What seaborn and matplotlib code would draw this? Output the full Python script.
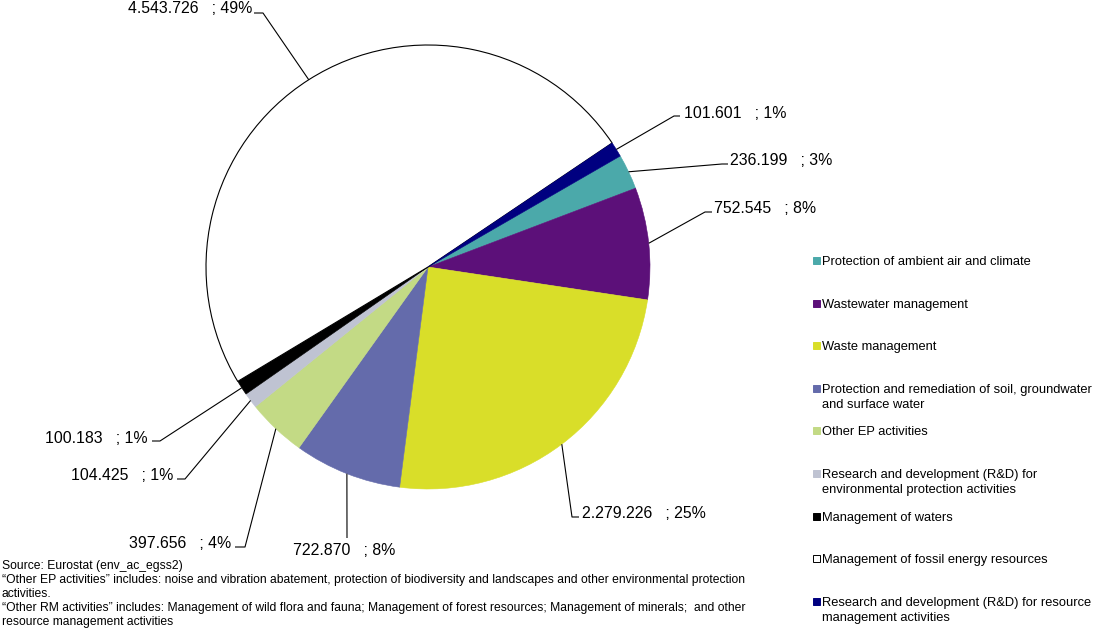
import matplotlib
matplotlib.use("Agg")
import matplotlib.pyplot as plt
from matplotlib.patches import Rectangle
import seaborn as sns
import numpy as np

# ---------------- data ----------------
categories = [
    "Protection of ambient air and climate",
    "Wastewater management",
    "Waste management",
    "Protection and remediation of soil, groundwater\nand surface water",
    "Other EP activities",
    "Research and development (R&D) for\nenvironmental protection activities",
    "Management of waters",
    "Management of fossil energy resources",
    "Research and development (R&D) for resource\nmanagement activities",
]
values = [236199, 752545, 2279226, 722870, 397656, 104425, 100183, 4543726, 101601]
colors = ["#4BA9AA", "#5C1079", "#D9DE29", "#646BAB", "#C3DA85",
          "#BFC3D2", "#000000", "#FFFFFF", "#000080"]

footnotes = [
    "Source: Eurostat (env_ac_egss2)",
    "\u201cOther EP activities\u201d includes: noise and vibration abatement, protection of biodiversity and landscapes and other environmental protection",
    "activities.",
    "\u201cOther RM activities\u201d includes: Management of wild flora and fauna; Management of forest resources; Management of minerals;  and other",
    "resource management activities",
]

# ---------------- layout (pixels, y measured from top) ----------------
W, H = 1101, 630
CX, CY, R = 428, 267, 222
label_x = [730, 714, 582, 344, 231, 173, 148, 252, 684]
label_base = [165, 213, 518, 555, 548, 480, 443, 13, 118]
label_ha = ["left", "left", "left", "center", "right", "right", "right", "right", "left"]
elbows = [(722, 164), (705, 212), (572, 517), (347, 538), (245, 547),
          (185, 479), (160, 441), (263, 13), (674, 116)]
tick_ends = [(728, 164), (712, 212), (579, 517), None, (235, 547),
             (177, 479), (152, 441), (254, 13), (680, 116)]

sns.set_theme(style="white")
plt.rcParams["font.family"] = ["Liberation Sans", "DejaVu Sans"]

fig = plt.figure(figsize=(W / 100, H / 100), dpi=100)
ax = fig.add_axes([0, 0, 1, 1])

palette = sns.color_palette(colors)
wedges, _ = ax.pie(values, colors=palette, startangle=30, counterclock=False,
                   center=(CX, H - CY), radius=R)
for w, c in zip(wedges, colors):
    if c.upper() == "#FFFFFF":
        w.set_edgecolor("black")
        w.set_linewidth(0.8)
    else:
        w.set_edgecolor(c)
        w.set_linewidth(0.4)
ax.set_xlim(0, W)
ax.set_ylim(0, H)
ax.set_aspect("equal")
ax.axis("off")

total = sum(values)
for i, w in enumerate(wedges):
    th = np.radians((w.theta1 + w.theta2) / 2)
    rx, ry = CX + R * np.cos(th), (H - CY) + R * np.sin(th)
    ex, ey = elbows[i]
    xs, ys = [rx, ex], [ry, H - ey]
    if tick_ends[i] is not None:
        tx, ty = tick_ends[i]
        xs.append(tx)
        ys.append(H - ty)
    ax.plot(xs, ys, color="black", lw=0.8, solid_capstyle="butt", clip_on=False)
    pct = round(100 * values[i] / total)
    txt = f"{values[i]:,}".replace(",", ".") + f"   ; {pct}%"
    ax.text(label_x[i], H - label_base[i], txt, ha=label_ha[i], va="baseline",
            fontsize=11.4, color="black")

# legend (manual, first lines evenly spaced)
for i, cat in enumerate(categories):
    base = 265 + i * 42.6
    ec = "black" if colors[i].upper() == "#FFFFFF" else colors[i]
    ax.add_patch(Rectangle((813, H - base + 1), 7, 7, facecolor=palette[i],
                           edgecolor=ec, lw=0.7, clip_on=False))
    for j, line in enumerate(cat.split("\n")):
        ax.text(822, H - (base + j * 15.2), line, ha="left", va="baseline",
                fontsize=9.25, color="black")

for i, line in enumerate(footnotes):
    ax.text(2, H - (569 + i * 14), line, ha="left", va="baseline",
            fontsize=8.7, color="black")

fig.savefig("out.png", dpi=100)
